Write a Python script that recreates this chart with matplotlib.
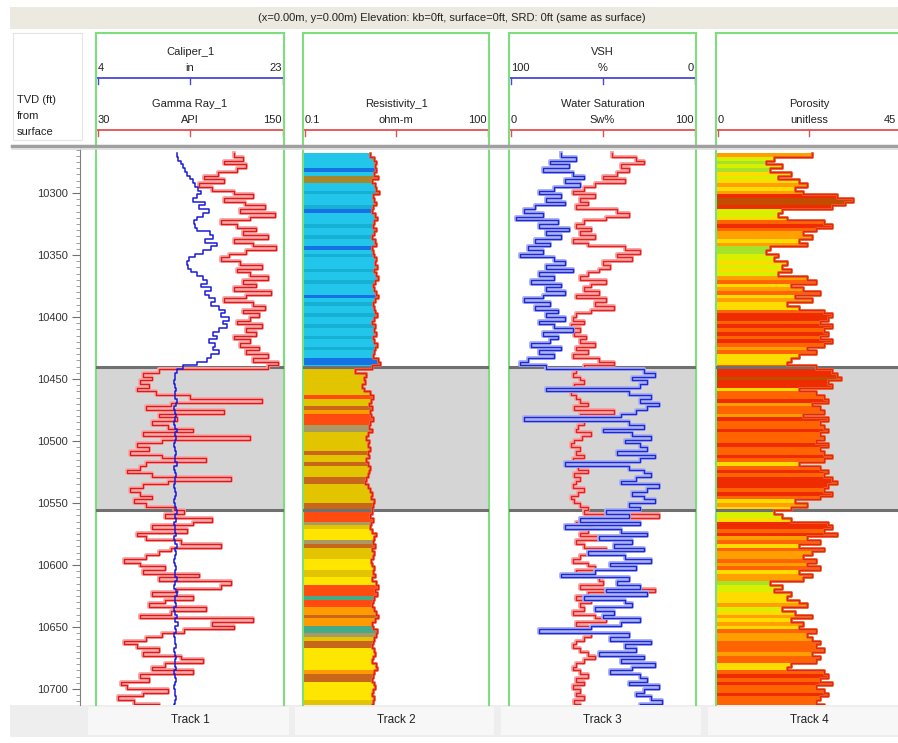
import numpy as np
import matplotlib
matplotlib.use('Agg')
import matplotlib.pyplot as plt
from matplotlib.colors import ListedColormap, BoundaryNorm
from matplotlib.patches import Rectangle
from matplotlib.lines import Line2D
from matplotlib.ticker import MultipleLocator

plt.rcParams['font.family'] = ['Liberation Sans', 'DejaVu Sans']

# ---------------- data ----------------
DEPTH_TOP = 10268
DEPTH_STEP = 3
ZONE_TOP, ZONE_BASE = 10440, 10556

gamma_ray = [118, 124, 112, 126, 120, 108, 99, 112, 96, 104,
             118, 130, 112, 125, 138, 122, 144, 128, 110, 120,
             132, 124, 140, 118, 130, 145, 126, 115, 110, 122,
             136, 120, 128, 140, 124, 132, 118, 142, 126, 112,
             130, 138, 124, 134, 128, 120, 136, 126, 132, 118,
             128, 122, 134, 126, 140, 130, 146, 140, 70, 60,
             66, 58, 64, 56, 68, 90, 136, 78, 62, 112,
             70, 82, 66, 76, 92, 60, 128, 72, 56, 64,
             52, 72, 100, 62, 58, 50, 66, 116, 76, 60,
             52, 58, 66, 54, 62, 80, 86, 74, 104, 92,
             66, 88, 56, 62, 84, 110, 78, 70, 62, 48,
             58, 74, 60, 96, 70, 116, 110, 82, 66, 92,
             74, 64, 100, 78, 58, 130, 104, 118, 86, 72,
             62, 48, 56, 70, 60, 84, 98, 74, 66, 92,
             58, 64, 46, 50, 76, 60, 44, 54, 70, 48]

caliper = [12.2, 12.3, 12.6, 12.8, 13.0, 13.2, 13.5, 13.8, 14.0, 14.3,
           14.6, 14.2, 13.8, 15.0, 14.4, 15.4, 14.8, 14.2, 13.9, 14.0,
           14.2, 15.5, 15.8, 15.0, 16.2, 15.6, 14.8, 14.0, 13.4, 13.2,
           13.3, 13.6, 14.2, 14.8, 15.2, 14.6, 15.6, 15.0, 15.4, 16.0,
           15.6, 16.4, 17.0, 16.6, 17.4, 16.8, 17.2, 16.4, 15.8, 16.2,
           15.4, 16.0, 15.8, 16.4, 15.6, 15.2, 14.2, 12.8, 12.2, 12.0,
           12.0, 11.9, 12.0, 12.1, 12.0, 12.0, 12.2, 12.1, 11.9, 12.0,
           12.1, 12.0, 11.9, 12.0, 12.2, 12.0, 12.1, 12.0, 11.9, 12.0,
           12.1, 12.0, 12.0, 12.2, 11.9, 12.0, 12.1, 12.0, 12.0, 11.9,
           12.0, 12.1, 12.0, 11.9, 12.0, 12.1, 12.2, 12.0, 12.1, 11.9,
           12.0, 12.0, 12.1, 11.9, 12.0, 12.2, 12.0, 12.1, 12.0, 11.9,
           12.0, 12.1, 12.0, 12.0, 12.2, 12.0, 11.9, 12.1, 12.2, 12.0,
           12.0, 12.1, 11.9, 12.0, 12.2, 12.0, 12.3, 12.0, 12.1, 11.9,
           12.0, 12.0, 12.1, 11.9, 12.0, 12.1, 12.0, 12.0, 12.1, 11.9,
           12.0, 12.1, 12.0, 11.9, 12.0, 12.0, 12.1, 12.0, 11.9, 12.0]

resistivity = [1.20, 1.40, 1.50, 1.45, 1.50, 1.40, 1.60, 1.30, 1.45, 1.50,
               1.70, 1.35, 1.40, 1.50, 1.35, 1.30, 1.45, 1.55, 1.40, 1.35,
               1.50, 1.40, 1.30, 1.45, 1.50, 1.30, 1.35, 1.40, 1.50, 1.45,
               1.55, 1.40, 1.50, 1.60, 1.45, 1.35, 1.40, 1.50, 1.60, 1.45,
               1.35, 1.40, 1.45, 1.55, 1.40, 1.30, 1.45, 1.40, 1.50, 1.35,
               1.40, 1.55, 1.45, 1.40, 1.35, 1.60, 1.75, 1.30, 0.70, 1.05,
               0.95, 1.00, 0.90, 0.95, 1.20, 1.35, 1.25, 1.15, 1.30, 1.20,
               1.25, 1.35, 1.20, 1.15, 1.30, 1.10, 1.05, 1.15, 1.10, 1.20,
               1.10, 1.15, 1.05, 1.10, 1.20, 1.15, 1.10, 1.05, 1.00, 1.10,
               1.20, 1.30, 1.25, 1.40, 1.35, 1.30, 1.30, 1.20, 1.35, 1.25,
               1.20, 1.30, 1.50, 1.40, 1.35, 1.45, 1.30, 1.40, 1.35, 1.25,
               1.30, 1.40, 1.35, 1.45, 1.30, 1.50, 1.60, 1.45, 1.55, 1.40,
               1.35, 1.30, 1.40, 1.50, 1.60, 1.45, 1.30, 1.35, 1.55, 1.50,
               1.40, 1.35, 1.30, 1.40, 1.45, 1.35, 1.30, 1.50, 1.55, 1.40,
               1.35, 1.30, 1.40, 1.45, 1.35, 1.30, 1.40, 1.35, 1.30, 1.40]

# facies code of the resistivity fill, one letter per sample
res_facies = ("CCCCBCOOCC" "TCCCTBCCCT" "CCTCCBCTCC" "CTCCTCCCBC" "TCCTCCTCCT"
              "CCTCCBBCGG" "GGGGGRGGWA" "RRRKKGGGGG" "WGGWGGGWWG" "GGGGWWRRRK"
              "GYYYKWGGGY" "YYGGYYRRRE" "RRAAWAAEEK" "GWWYYYYYYA" "WWYYYYYGGG")
facies_colors = {'C': '#22c6ea', 'B': '#1672e4', 'T': '#16b0d4', 'O': '#a8862a',
                 'G': '#e2c400', 'Y': '#ffe600', 'R': '#ff4a10', 'A': '#ff9a00',
                 'W': '#c8661a', 'K': '#a89a62', 'E': '#44aa88'}

water_sat = [55, 68, 72, 60, 64, 58, 50, 62, 46, 40,
             34, 46, 38, 42, 36, 58, 64, 52, 40, 36,
             44, 38, 46, 34, 42, 62, 70, 58, 66, 50,
             54, 48, 42, 38, 52, 44, 40, 48, 36, 52,
             46, 56, 44, 36, 34, 40, 33, 38, 35, 41,
             38, 46, 36, 42, 34, 48, 56, 40, 36, 34,
             38, 40, 35, 37, 33, 36, 38, 42, 35, 56,
             38, 34, 40, 37, 36, 44, 39, 35, 33, 38,
             36, 40, 34, 32, 37, 42, 35, 38, 36, 34,
             40, 37, 33, 35, 38, 42, 40, 80, 38, 36,
             44, 42, 38, 48, 36, 40, 52, 44, 38, 34,
             42, 46, 36, 40, 48, 50, 38, 78, 42, 36,
             44, 38, 40, 34, 46, 52, 36, 42, 38, 44,
             40, 36, 34, 38, 42, 46, 40, 36, 34, 38,
             42, 36, 40, 34, 38, 36, 40, 35, 38, 36]

vsh = [72, 64, 78, 68, 82, 66, 60, 70, 62, 76,
       84, 72, 80, 70, 86, 92, 82, 96, 74, 84,
       68, 80, 72, 86, 78, 90, 82, 94, 76, 70,
       80, 66, 84, 76, 88, 72, 80, 70, 82, 92,
       78, 86, 74, 80, 70, 84, 76, 66, 82, 74,
       78, 88, 72, 84, 76, 90, 94, 80, 28, 22,
       34, 26, 30, 80, 36, 24, 30, 20, 26, 32,
       40, 92, 36, 28, 50, 34, 24, 38, 30, 26,
       42, 22, 30, 70, 36, 28, 24, 32, 40, 20,
       26, 34, 28, 22, 36, 30, 48, 36, 62, 30,
       70, 40, 26, 52, 34, 44, 28, 58, 38, 24,
       46, 32, 54, 72, 36, 42, 30, 48, 26, 60,
       38, 34, 54, 44, 50, 30, 40, 56, 84, 36,
       46, 24, 38, 32, 52, 28, 40, 22, 34, 46,
       30, 26, 36, 20, 28, 32, 24, 18, 30, 22]

porosity = [23, 14, 12, 16, 13, 18, 15, 20, 22, 19,
            21, 29, 33, 31, 28, 16, 15, 17, 26, 28,
            24, 21, 23, 20, 22, 13, 12, 15, 14, 17,
            16, 18, 15, 22, 24, 18, 21, 25, 19, 23,
            17, 20, 26, 28, 27, 25, 28, 26, 27, 25,
            28, 26, 22, 24, 20, 18, 17, 24, 28, 29,
            30, 27, 28, 20, 24, 26, 27, 23, 25, 26,
            21, 27, 25, 26, 27, 25, 26, 24, 27, 25,
            26, 28, 26, 20, 25, 27, 26, 28, 29, 27,
            26, 28, 25, 19, 22, 18, 14, 16, 18, 27,
            28, 26, 29, 22, 25, 20, 26, 23, 21, 24,
            22, 25, 20, 23, 21, 13, 16, 14, 18, 17,
            20, 22, 16, 19, 23, 18, 21, 20, 24, 22,
            23, 25, 24, 26, 23, 25, 24, 18, 17, 26,
            27, 25, 28, 24, 26, 27, 25, 24, 26, 27]
phi_bounds = [0, 14, 17, 21, 24, 27, 30, 45]
phi_colors = ['#a6e22a', '#d8f000', '#ffdc00', '#ffa000', '#ff6400', '#ee2c00', '#c24c00']

track_labels = ['Track 1', 'Track 2', 'Track 3', 'Track 4']
banner_text = "(x=0.00m, y=0.00m) Elevation: kb=0ft, surface=0ft, SRD: 0ft (same as surface)"

# ---------------- layout ----------------
W, H = 898, 743
fig = plt.figure(figsize=(W / 100, H / 100), dpi=100)
fig.patch.set_facecolor('white')


def fx(px):
    return px / W


def fy(py):
    return 1 - py / H


def rect(x0, y0, x1, y1):
    return [fx(x0), fy(y1), fx(x1) - fx(x0), fy(y0) - fy(y1)]


TRACK_X = [(96, 284), (303, 489), (509, 696), (716, 903)]
HDR_Y0, HDR_Y1 = 33, 146
DAT_Y0, DAT_Y1 = 148, 705
REF_PX, REF_D, PX_PER_FT = 193.0, 10300.0, 1.24


def px2depth(py):
    return REF_D + (py - REF_PX) / PX_PER_FT


YLIM = (px2depth(DAT_Y1), px2depth(DAT_Y0))
GREEN = '#7ede7e'
FS = 8

# background pieces
fig.add_artist(Rectangle((fx(10), fy(29)), fx(898) - fx(10), fy(7) - fy(29),
                         transform=fig.transFigure, facecolor='#ebe9e0', edgecolor='none', zorder=0))
fig.text(fx(452), fy(18), banner_text, fontsize=FS, ha='center', va='center', color='#222222')
fig.add_artist(Rectangle((fx(10), fy(737)), fx(898) - fx(10), fy(705) - fy(737),
                         transform=fig.transFigure, facecolor='#eeeeee', edgecolor='none', zorder=0))
fig.add_artist(Rectangle((fx(13), fy(140)), fx(82) - fx(13), fy(33) - fy(140),
                         transform=fig.transFigure, facecolor='white', edgecolor='#e4e4e4', lw=0.8, zorder=0))
for i, (x0, x1) in enumerate(TRACK_X):
    fig.add_artist(Rectangle((fx(x0 - 8), fy(735)), fx(x1 + 5) - fx(x0 - 8), fy(707) - fy(735),
                             transform=fig.transFigure, facecolor='#f7f7f7', edgecolor='none', zorder=0))
    fig.text(fx((x0 + x1) / 2), fy(720), track_labels[i], fontsize=FS + 0.5, ha='center', va='center',
             color='#222222')

for k, t in enumerate(['TVD (ft)', 'from', 'surface']):
    fig.text(fx(17), fy(100 + 16 * k), t, fontsize=FS, ha='left', va='center', color='#222222')

# header/data separator
fig.add_artist(Line2D([fx(12), 1], [fy(146), fy(146)], transform=fig.transFigure,
                      color='#a0a0a0', lw=2.5, zorder=5))
fig.add_artist(Line2D([fx(12), 1], [fy(148.5), fy(148.5)], transform=fig.transFigure,
                      color='#dcdcdc', lw=1.2, zorder=5))


def header(track, rows, right_edge=None):
    x0, x1 = TRACK_X[track]
    xr = right_edge if right_edge is not None else x1 - 2
    ax = fig.add_axes(rect(x0, HDR_Y0, x1, HDR_Y1))
    ax.set_xlim(x0, x1)
    ax.set_ylim(HDR_Y1, HDR_Y0)
    ax.set_xticks([])
    ax.set_yticks([])
    for s in ['left', 'right', 'top']:
        ax.spines[s].set_color(GREEN)
        ax.spines[s].set_linewidth(1.5)
    ax.spines['bottom'].set_visible(False)
    for name, lo, unit, hi, color, yline in rows:
        ax.text((x0 + x1) / 2, yline - 26, name, fontsize=FS, ha='center', va='center', color='#222222')
        ax.text(x0 + 2, yline - 10, lo, fontsize=FS, ha='left', va='center', color='#222222')
        ax.text((x0 + x1) / 2, yline - 10, unit, fontsize=FS, ha='center', va='center', color='#222222')
        ax.text(xr, yline - 10, hi, fontsize=FS, ha='right', va='center', color='#222222')
        ax.plot([x0 + 1, x1 - 1], [yline, yline], color=color, lw=1.3, solid_capstyle='butt')
        for xt in [x0 + 1.5, (x0 + x1) / 2, x1 - 1.5]:
            ax.plot([xt, xt], [yline, yline + 6], color=color, lw=1.0)
    return ax


header(0, [('Caliper_1', '4', 'in', '23', '#4848d8', 78),
           ('Gamma Ray_1', '30', 'API', '150', '#e05050', 130)])
header(1, [('Resistivity_1', '0.1', 'ohm-m', '100', '#e05050', 130)])
header(2, [('VSH', '100', '%', '0', '#4848d8', 78),
           ('Water Saturation', '0', 'Sw%', '100', '#e05050', 130)])
header(3, [('Porosity', '0', 'unitless', '45', '#e05050', 130)], right_edge=896)


def data_axes(track, xlim, xscale='linear'):
    x0, x1 = TRACK_X[track]
    ax = fig.add_axes(rect(x0, DAT_Y0, x1, DAT_Y1))
    ax.set_xscale(xscale)
    ax.set_xlim(*xlim)
    ax.set_ylim(*YLIM)
    ax.set_xticks([])
    ax.set_yticks([])
    ax.minorticks_off()
    for s in ['left', 'right']:
        ax.spines[s].set_color(GREEN)
        ax.spines[s].set_linewidth(1.5)
    for s in ['top', 'bottom']:
        ax.spines[s].set_visible(False)
    ax.axhspan(ZONE_TOP, ZONE_BASE, color='#d5d5d5', zorder=0, lw=0)
    for d in (ZONE_TOP, ZONE_BASE):
        ax.axhline(d, color='#707070', lw=2.2, zorder=4)
    return ax


def depths(values):
    return DEPTH_TOP + DEPTH_STEP * np.arange(len(values))


def twin(ax, xlim):
    t = ax.twiny()
    t.set_xlim(*xlim)
    t.set_ylim(*YLIM)
    t.set_axis_off()
    return t


def log_curve(ax, values, dark, light, lw_light=2.8, lw_dark=1.0):
    d = depths(values)
    ax.plot(values, d, drawstyle='steps-pre', color=light, lw=lw_light, zorder=5)
    ax.plot(values, d, drawstyle='steps-pre', color=dark, lw=lw_dark, zorder=6)


# depth axis
axd = fig.add_axes(rect(80, DAT_Y0, 81, DAT_Y1))
axd.set_ylim(*YLIM)
axd.set_xticks([])
for s in ['top', 'bottom', 'right']:
    axd.spines[s].set_visible(False)
axd.spines['left'].set_color('#808080')
axd.yaxis.set_major_locator(MultipleLocator(50))
axd.yaxis.set_minor_locator(MultipleLocator(5))
axd.yaxis.set_major_formatter(matplotlib.ticker.FuncFormatter(lambda v, p: f"{int(round(v))}"))
axd.tick_params(axis='y', which='major', length=6, color='#707070', labelsize=FS, labelcolor='#333333', pad=3)
axd.tick_params(axis='y', which='minor', length=3, color='#909090')
axd.patch.set_alpha(0)

# Track 1: gamma ray + caliper
ax1 = data_axes(0, (30, 150))
log_curve(ax1, gamma_ray, '#e01818', '#f6a8a8')
ax1c = twin(ax1, (4, 23))
ax1c.plot(caliper, depths(caliper), drawstyle='steps-pre', color='#1a1ad8', lw=1.1, zorder=7)

# Track 2: resistivity with facies fill
ax2 = data_axes(1, (0.1, 100), 'log')
res = np.array(resistivity)
ax2.barh(depths(res), res - 0.1, left=0.1, height=DEPTH_STEP, align='edge',
         color=[facies_colors[c] for c in res_facies], edgecolor='none', zorder=2)
log_curve(ax2, resistivity, '#e02010', '#f07050', lw_light=2.0, lw_dark=1.0)

# Track 3: water saturation + VSH
ax3 = data_axes(2, (0, 100))
log_curve(ax3, water_sat, '#e42020', '#f6a4a4')
ax3v = twin(ax3, (100, 0))
ax3v.plot(vsh, depths(vsh), drawstyle='steps-pre', color='#a8b0f2', lw=2.8, zorder=5)
ax3v.plot(vsh, depths(vsh), drawstyle='steps-pre', color='#1c28d0', lw=1.0, zorder=6)

# Track 4: porosity with value-coloured fill
ax4 = data_axes(3, (0, 45))
cmap = ListedColormap(phi_colors)
norm = BoundaryNorm(phi_bounds, cmap.N)
phi = np.array(porosity)
ax4.barh(depths(phi), phi, left=0, height=DEPTH_STEP, align='edge',
         color=cmap(norm(phi)), edgecolor='none', zorder=2)
log_curve(ax4, porosity, '#e02a0a', '#f06a3a', lw_light=2.0, lw_dark=1.0)

fig.savefig('out.png', dpi=100, facecolor=fig.get_facecolor())
